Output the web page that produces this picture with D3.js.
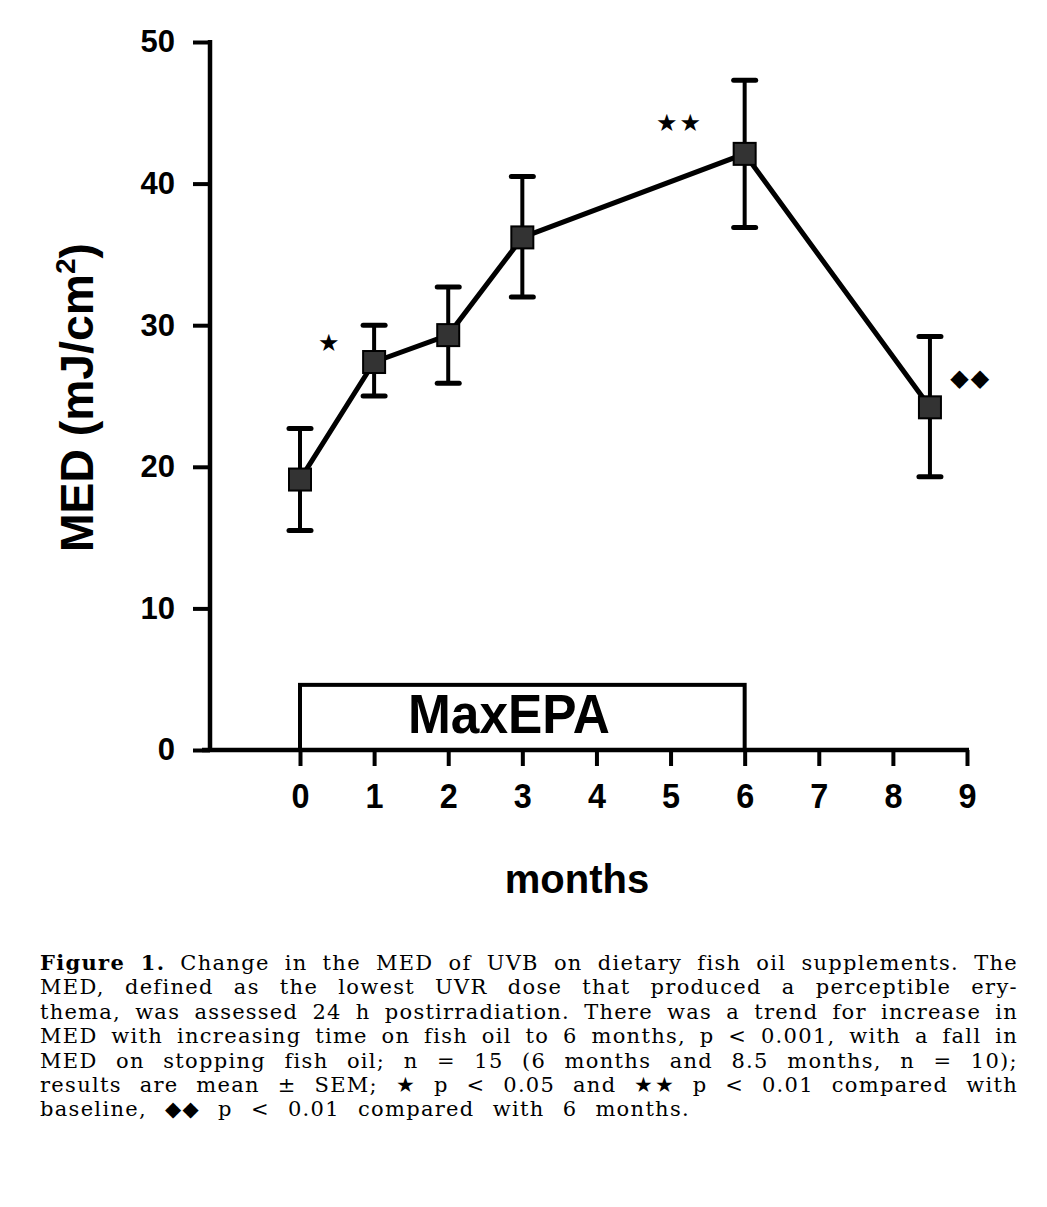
<!DOCTYPE html>
<html><head><meta charset="utf-8">
<script src="https://cdn.jsdelivr.net/npm/d3@7"></script>
<style>body{margin:0;background:#fff}</style>
</head><body>
<svg id="c" width="1047" height="1207"></svg>
<script>
const months = [0, 1, 2, 3, 6, 8.5];
const medMean = [19.1, 27.4, 29.3, 36.2, 42.1, 24.2];
const medLow = [15.5, 25.0, 25.9, 32.0, 36.9, 19.3];
const medHigh = [22.7, 30.0, 32.7, 40.5, 47.3, 29.2];
const xTicks = [0, 1, 2, 3, 4, 5, 6, 7, 8, 9];
const yTicks = [0, 10, 20, 30, 40, 50];
const marks = [{m: 0.4, v: 28.8, t: "★"}, {m: 5.12, v: 44.3, t: "★★"}, {m: 9.05, v: 26.3, t: "◆◆"}];
const treatment = {label: "MaxEPA", start: 0, end: 6, top: 4.6};
const captionLines = [
  ["Figure 1.", " Change in the MED of UVB on dietary fish oil supplements. The"],
  ["", "MED, defined as the lowest UVR dose that produced a perceptible ery-"],
  ["", "thema, was assessed 24 h postirradiation. There was a trend for increase in"],
  ["", "MED with increasing time on fish oil to 6 months, p < 0.001, with a fall in"],
  ["", "MED on stopping fish oil; n = 15 (6 months and 8.5 months, n = 10);"],
  ["", "results are mean ± SEM; ★ p < 0.05 and ★★ p < 0.01 compared with"],
  ["", "baseline, ◆◆ p < 0.01 compared with 6 months."]
];

const svg = d3.select("#c");
const x = d3.scaleLinear().domain([0, 9]).range([300, 967]);
const y = d3.scaleLinear().domain([0, 50]).range([750, 42]);
const axisX = 210;
const sans = "'Liberation Sans', Arial, sans-serif";

// treatment box
svg.append("rect")
  .attr("x", x(treatment.start)).attr("y", y(treatment.top))
  .attr("width", x(treatment.end) - x(treatment.start)).attr("height", y(0) - y(treatment.top))
  .attr("fill", "#fff").attr("stroke", "#000").attr("stroke-width", 4);
svg.append("text").attr("x", 408).attr("y", y(0) - 17)
  .attr("font-family", sans).attr("font-weight", "bold")
  .attr("font-size", 56).attr("textLength", 202).attr("lengthAdjust", "spacingAndGlyphs")
  .text(treatment.label);

// y axis
const gy = svg.append("g").attr("transform", `translate(${axisX},0)`)
  .call(d3.axisLeft(y).tickValues(yTicks).tickSize(17).tickPadding(18));
gy.select(".domain").remove();
gy.selectAll(".tick line").attr("stroke", "#000").attr("stroke-width", 4);
gy.selectAll(".tick text").attr("font-family", sans).attr("font-weight", "bold")
  .attr("font-size", 31).attr("fill", "#000");
svg.append("line").attr("x1", axisX).attr("x2", axisX).attr("y1", y(50) - 2).attr("y2", y(0) + 2)
  .attr("stroke", "#000").attr("stroke-width", 4.5);

// x axis
const gx = svg.append("g").attr("transform", `translate(0,${y(0)})`)
  .call(d3.axisBottom(x).tickValues(xTicks).tickSize(16).tickPadding(16));
gx.select(".domain").remove();
gx.selectAll(".tick line").attr("stroke", "#000").attr("stroke-width", 4);
gx.selectAll(".tick text").attr("font-family", sans).attr("font-weight", "bold")
  .attr("font-size", 36).attr("fill", "#000")
  .attr("transform", "scale(0.9,1)").attr("dy", "0.71em");
svg.append("line").attr("x1", axisX - 8).attr("x2", x(9) + 2).attr("y1", y(0)).attr("y2", y(0))
  .attr("stroke", "#000").attr("stroke-width", 4.5);

// axis titles
svg.append("text").attr("x", 577).attr("y", 893).attr("text-anchor", "middle")
  .attr("font-family", sans).attr("font-weight", "bold").attr("font-size", 40).text("months");
const yl = svg.append("text").attr("transform", "translate(93,552) rotate(-90)")
  .attr("font-family", sans).attr("font-weight", "bold").attr("font-size", 46)
  .attr("textLength", 309).attr("lengthAdjust", "spacingAndGlyphs");
yl.append("tspan").text("MED (mJ/cm");
yl.append("tspan").attr("dy", -18).attr("font-size", 28).text("2");
yl.append("tspan").attr("dy", 18).text(")");

// error bars
const data = months.map((m, i) => ({m, v: medMean[i], lo: medLow[i], hi: medHigh[i]}));
const eb = svg.append("g");
data.forEach(d => {
  eb.append("line").attr("x1", x(d.m)).attr("x2", x(d.m)).attr("y1", y(d.lo)).attr("y2", y(d.hi))
    .attr("stroke", "#000").attr("stroke-width", 4);
  [d.lo, d.hi].forEach(v => eb.append("line").attr("x1", x(d.m) - 11).attr("x2", x(d.m) + 11)
    .attr("y1", y(v)).attr("y2", y(v)).attr("stroke", "#000").attr("stroke-width", 5).attr("stroke-linecap", "round"));
});

// line
svg.append("path").datum(data)
  .attr("d", d3.line().x(d => x(d.m)).y(d => y(d.v)))
  .attr("fill", "none").attr("stroke", "#000").attr("stroke-width", 5);

// markers
svg.selectAll(".mk").data(data).enter().append("rect")
  .attr("x", d => x(d.m) - 11).attr("y", d => y(d.v) - 11)
  .attr("width", 22).attr("height", 22).attr("fill", "#333").attr("stroke", "#000").attr("stroke-width", 2);

// significance marks
svg.selectAll(".sig").data(marks).enter().append("text")
  .attr("x", d => x(d.m)).attr("y", d => y(d.v)).attr("dy", "0.35em")
  .attr("text-anchor", "middle").attr("font-family", "'DejaVu Sans', sans-serif")
  .attr("font-size", 24).attr("letter-spacing", 2).text(d => d.t);

// caption
const serif = "'DejaVu Serif', 'Liberation Serif', serif";
captionLines.forEach((ln, i) => {
  const t = svg.append("text").attr("x", 40).attr("y", 970 + i * 24.4)
    .attr("font-family", serif).attr("font-size", 21).attr("fill", "#000");
  if (ln[0]) t.append("tspan").attr("font-weight", "bold").text(ln[0]);
  t.append("tspan").text(ln[1]);
  const full = ln[0] + ln[1];
  const target = i < captionLines.length - 1 ? 978 : 650;
  const len0 = t.node().getComputedTextLength();
  const ls = Math.max(0, Math.min(1.3, (target - len0) * 0.55 / full.length));
  t.attr("letter-spacing", ls);
  const len1 = t.node().getComputedTextLength();
  const spaces = full.split(" ").length - 1;
  t.attr("word-spacing", (target - len1) / spaces);
});
</script>
</body></html>
